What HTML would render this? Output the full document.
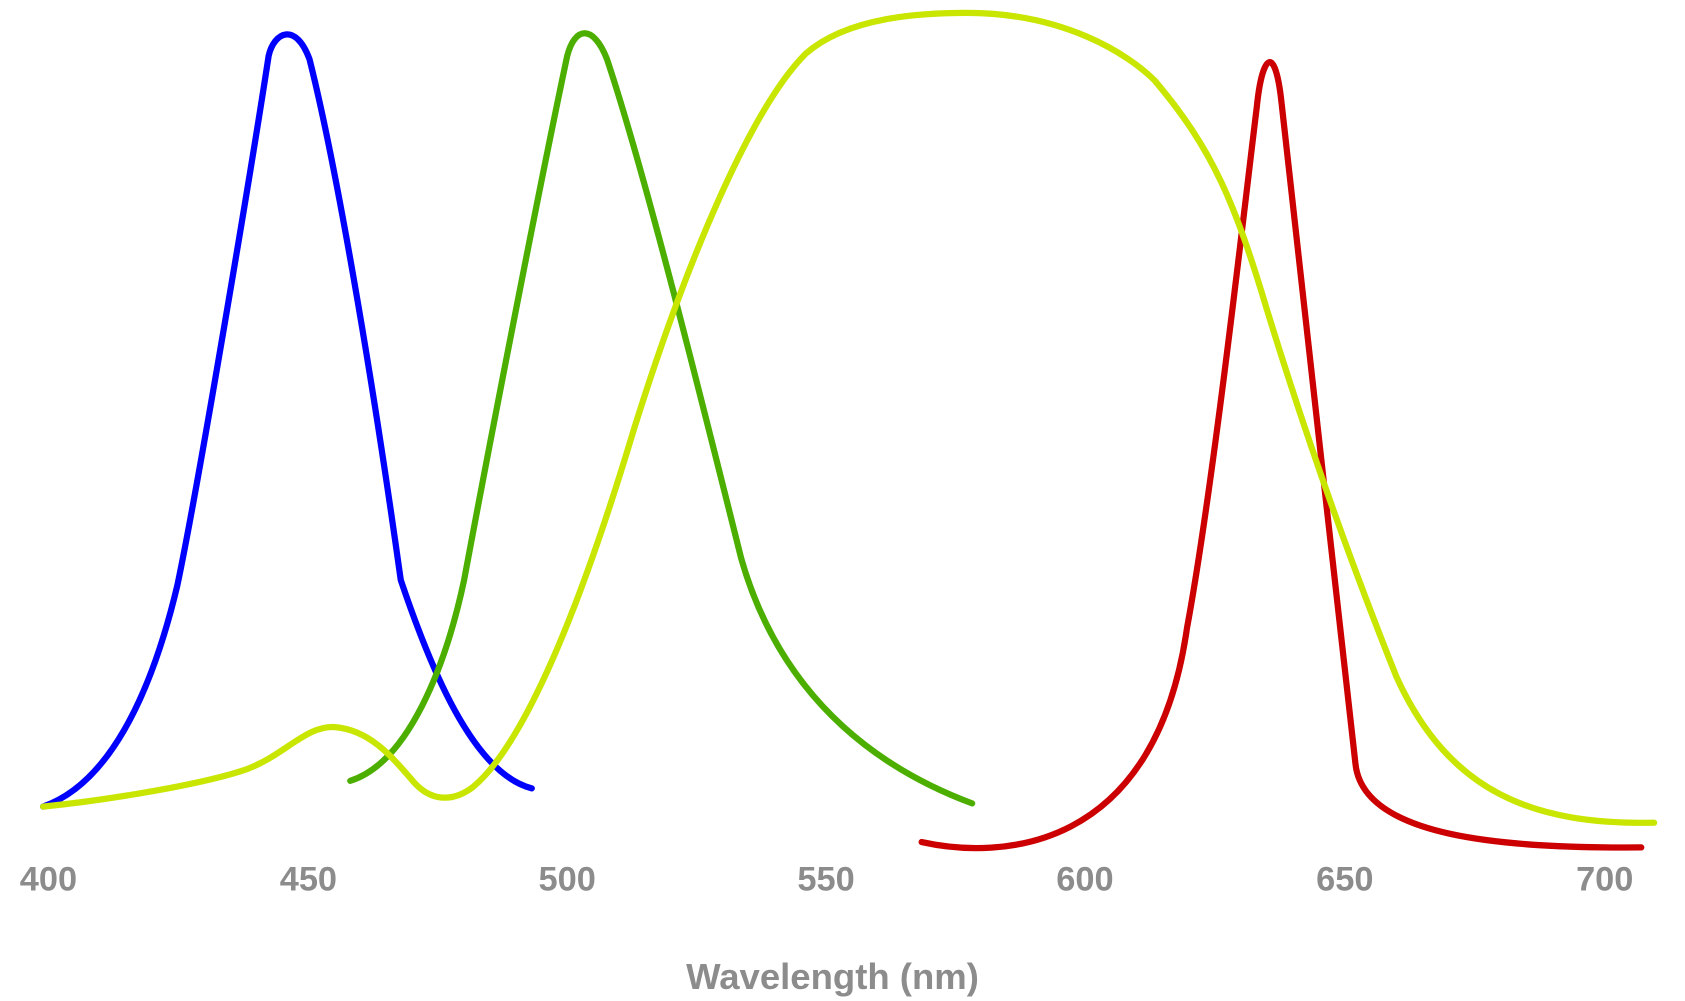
<!DOCTYPE html>
<html><head><meta charset="utf-8"><style>
html,body{margin:0;padding:0;background:#fff;}
svg{display:block;}
text{font-family:"Liberation Sans",sans-serif;font-weight:bold;fill:#8c8c8c;}
</style></head><body>
<svg width="1685" height="1001" viewBox="0 0 1568.6 932" xmlns="http://www.w3.org/2000/svg">
<g fill="none" stroke-width="5.8" stroke-linecap="round" stroke-linejoin="round">
<path stroke="#0000ff" d="M40,751 C100,730 140,650 165,545 C185,450 235,150 250,52 C255,30 275,20 288,55 C312,150 345,340 373,540 C400,620 440,720 495,734"/>
<path stroke="#4caf00" d="M326,727 C380,710 415,620 432,540 C460,390 505,160 528,52 C535,25 552,22 565,55 C600,160 650,360 690,520 C730,660 830,720 905,748"/>
<path stroke="#cc0000" d="M858,784 C930,800 1075,795 1105,585 C1130,450 1160,180 1170,100 C1175,50 1187,40 1193,95 C1210,230 1240,530 1262,712 C1270,780 1400,790 1528,789"/>
<path stroke="#c8e600" d="M40,751 C100,745 190,730 230,716 C265,703 285,675 312,677 C345,680 365,705 385,728 C400,745 420,748 440,733 C480,700 530,600 590,400 C640,240 700,100 750,50 C790,15 860,12 900,12 C990,12 1050,50 1075,75 C1130,140 1150,190 1180,290 C1220,420 1260,530 1300,630 C1350,740 1430,768 1540,766"/>
</g>
<g font-size="32" text-anchor="middle">
<text x="45" y="829">400</text>
<text x="287" y="829">450</text>
<text x="528" y="829">500</text>
<text x="769" y="829">550</text>
<text x="1010" y="829">600</text>
<text x="1252" y="829">650</text>
<text x="1494" y="829">700</text>
<text x="775" y="921" font-size="34">Wavelength (nm)</text>
</g>
</svg>
</body></html>
